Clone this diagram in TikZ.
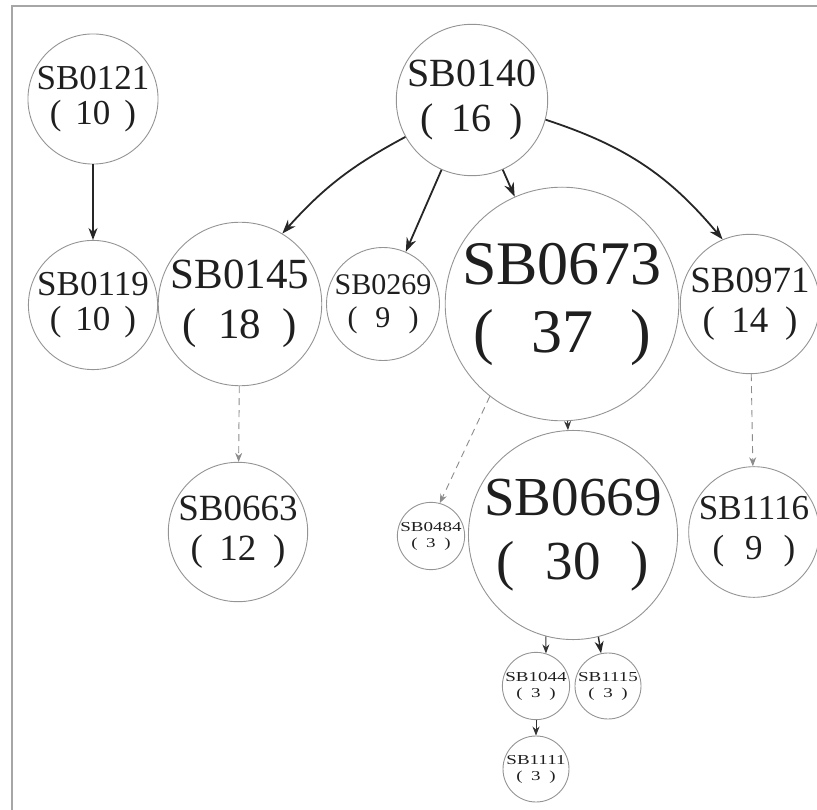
\documentclass[tikz,border=0pt]{standalone}
\usepackage{fontspec}
\setmainfont{Liberation Serif}
\usetikzlibrary{arrows.meta}
\newcommand\pn[2]{(\hspace{#2}#1\hspace{#2})}
\newcommand\smlbl[2]{\scalebox{1}[0.72]{#1}\\[-3pt]\scalebox{1}[0.72]{(\hspace{.45em}#2\hspace{.45em})}}
\begin{document}
\begin{tikzpicture}[x=1pt,y=-1pt,
  nd/.style={circle,draw=black!42,line width=0.9pt,inner sep=0pt,align=center,text=black!88},
  bige/.style={-{Stealth[length=14pt,width=10pt]},line width=1.8pt,black!85},
  mide/.style={-{Stealth[length=12pt,width=9pt]},line width=1.4pt,black!85},
  smalle/.style={-{Stealth[length=9pt,width=7pt]},line width=0.9pt,black!80},
  dashe/.style={-{Stealth[length=9pt,width=7pt]},line width=0.9pt,black!45,dash pattern=on 7pt off 5pt}]
\useasboundingbox (0,0) rectangle (817,810);
\draw[black!35,line width=2pt] (12,810) -- (12,6) -- (817,6);
% nodes
\node[nd,minimum size=120pt,font=\fontsize{35}{35}\selectfont] (n121) at (93,99) {SB0121\\\pn{10}{.4em}};
\node[nd,minimum size=150pt,font=\fontsize{40}{45}\selectfont] (n140) at (472,100) {SB0140\\\pn{16}{.45em}};
\node[nd,minimum size=120pt,font=\fontsize{35}{35}\selectfont] (n119) at (93,305) {SB0119\\\pn{10}{.4em}};
\node[nd,minimum size=160pt,font=\fontsize{43}{50}\selectfont] (n145) at (240,304) {SB0145\\\pn{18}{.5em}};
\node[nd,minimum size=112pt,font=\fontsize{30}{33}\selectfont] (n269) at (383,304) {SB0269\\\pn{9}{.6em}};
\node[nd,minimum size=230pt,font=\fontsize{62}{68}\selectfont] (n673) at (562,304) {SB0673\hspace{12pt}\\\pn{37}{.6em}\hspace{12pt}};
\node[nd,minimum size=136pt,font=\fontsize{37}{40}\selectfont] (n971) at (750,304) {SB0971\\\pn{14}{.45em}};
\node[nd,minimum size=124pt,font=\fontsize{37}{40}\selectfont] (n663) at (238,532) {SB0663\\\pn{12}{.45em}};
\node[nd,minimum size=66pt,font=\fontsize{19}{19}\selectfont] (n484) at (431,536) {\smlbl{SB0484}{3}};
\node[nd,minimum size=204pt,font=\fontsize{55}{64}\selectfont] (n669) at (573,535) {SB0669\hspace{10pt}\\\pn{30}{.55em}\hspace{10pt}};
\node[nd,minimum size=116pt,font=\fontsize{35}{40}\selectfont] (n1116) at (754,532) {SB1116\\\pn{9}{.6em}};
\node[nd,minimum size=66pt,font=\fontsize{19}{19}\selectfont] (n1044) at (536,686) {\smlbl{SB1044}{3}};
\node[nd,minimum size=62pt,font=\fontsize{19}{19}\selectfont] (n1115) at (608,686) {\smlbl{SB1115}{3}};
\node[nd,minimum size=66pt,font=\fontsize{19}{19}\selectfont] (n1111) at (536,769) {\smlbl{SB1111}{3}};
% edges
\draw[mide] (n121) -- (n119);
\draw[bige] (n140.209) to[bend right=10] (n145.59);
\draw[bige] (n140) -- (n269);
\draw[bige] (n140) -- (n673);
\draw[bige] (n140.-15) to[bend left=16] (n971.113);
\draw[dashe] (n145) -- (n663);
\draw[dashe] (n673.232) -- (n484.75);
\draw[smalle] (n673) -- (n669);
\draw[dashe] (n971) -- (n1116);
\draw[smalle] (n669.255) -- (n1044.73);
\draw[mide] (n669.284) -- (n1115.102);
\draw[smalle] (n1044) -- (n1111);
\end{tikzpicture}
\end{document}
